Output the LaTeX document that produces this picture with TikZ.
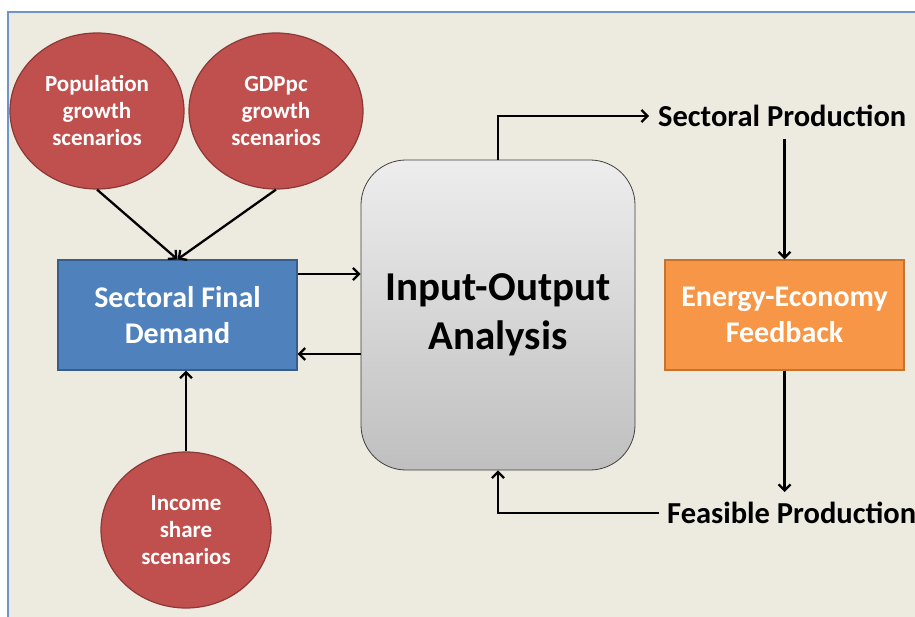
\documentclass[tikz,border=0pt]{standalone}
\usepackage{fontspec}
\setmainfont{Carlito}
\usetikzlibrary{arrows.meta,shapes.geometric}
\definecolor{bgbeige}{RGB}{237,235,224}
\definecolor{frameblue}{RGB}{110,150,200}
\definecolor{ellred}{RGB}{192,80,77}
\definecolor{ellredb}{RGB}{140,56,54}
\definecolor{boxblue}{RGB}{79,129,189}
\definecolor{boxblueb}{RGB}{56,93,138}
\definecolor{boxorange}{RGB}{247,150,70}
\definecolor{boxorangeb}{RGB}{200,115,45}
\tikzset{
  scen/.style={ellipse, fill=ellred, draw=ellredb, line width=1.2pt, inner sep=0pt,
    minimum width=174pt, minimum height=156pt, align=center, text=white,
    font=\fontsize{23}{27}\selectfont\bfseries},
  midbox/.style={rectangle, draw, line width=1.2pt, inner sep=0pt,
    minimum width=239pt, minimum height=110pt, align=center, text=white,
    font=\fontsize{30}{36}\selectfont\bfseries},
  iobox/.style={rectangle, rounded corners=45pt, draw=black!75, line width=0.8pt,
    top color=black!7, bottom color=black!25, inner sep=0pt,
    minimum width=274pt, minimum height=310pt, align=center,
    font=\fontsize{41}{49}\selectfont\bfseries},
  plainlbl/.style={inner sep=0pt, font=\fontsize{30.5}{36}\selectfont\bfseries},
  arr/.style={line width=2.3pt, -{Straight Barb[length=6pt,width=12pt]}},
}
\begin{document}
\begin{tikzpicture}[x=1pt,y=-1pt]
\useasboundingbox (0,0) rectangle (915,617);
\fill[white] (0,0) rectangle (915,617);
\fill[bgbeige] (8,12) rectangle (915,617);
\draw[frameblue, line width=1.5pt] (8,617) -- (8,12) -- (915,12);

\node[scen] (pop) at (97,111) {Population\\growth\\scenarios};
\node[scen] (gdp) at (276,111) {GDPpc\\growth\\scenarios};
\node[scen, minimum width=170pt] (inc) at (186,530) {Income\\share\\scenarios};

\node[midbox, fill=boxblue, draw=boxblueb] (sfd) at (177.5,315) {Sectoral Final\\Demand};
\node[iobox] (io) at (498,315) {Input-Output\\Analysis};
\node[midbox, fill=boxorange, draw=boxorangeb] (eef) at (784.5,315) {Energy-Economy\\Feedback};

\node[plainlbl, anchor=west] (sp) at (658,116) {Sectoral Production};
\node[plainlbl, anchor=west] (fp) at (667,513) {Feasible Production};

\draw[arr] (pop.south) -- (sfd.north);
\draw[arr] (gdp.south) -- (sfd.north);
\draw[arr] (sfd.east |- 0,274) -- (io.west |- 0,274);
\draw[arr] (io.west |- 0,354) -- (sfd.east |- 0,354);
\draw[arr] (inc.north) -- (inc.north |- sfd.south);
\draw[arr] (io.north) |- ([xshift=-9pt]sp.west);
\draw[arr] (eef.north |- 0,139) -- (eef.north);
\draw[arr] (eef.south) -- (eef.south |- 0,492);
\draw[arr] ([xshift=-8pt]fp.west) -| (io.south);
\end{tikzpicture}
\end{document}
